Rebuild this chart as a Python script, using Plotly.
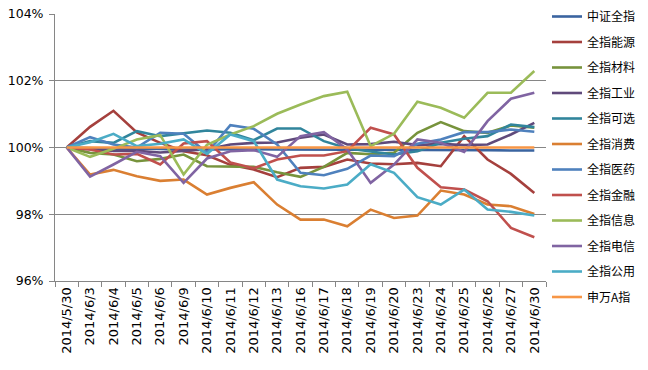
import plotly.graph_objects as go

dates = ["2014/5/30", "2014/6/3", "2014/6/4", "2014/6/5", "2014/6/6", "2014/6/9", "2014/6/10",
         "2014/6/11", "2014/6/12", "2014/6/13", "2014/6/16", "2014/6/17", "2014/6/18", "2014/6/19",
         "2014/6/20", "2014/6/23", "2014/6/24", "2014/6/25", "2014/6/26", "2014/6/27", "2014/6/30"]

zz_all = [100, 99.97, 99.96, 99.97, 99.95, 99.94, 99.94, 99.95, 99.95, 99.94, 99.94, 99.94, 99.93, 99.93,
          99.93, 99.93, 99.93, 99.92, 99.92, 99.91, 99.91]
energy = [100, 100.62, 101.1, 100.45, 100.14, 99.89, 99.77, 99.48, 99.34, 99.11, 99.39, 99.42, 99.64, 99.52,
          99.5, 99.54, 99.44, 100.34, 99.64, 99.21, 98.64]
materials = [100, 99.84, 99.79, 99.59, 99.66, 99.79, 99.44, 99.42, 99.42, 99.26, 99.12, 99.42, 99.84, 99.8,
             99.84, 100.44, 100.76, 100.49, 100.44, 100.66, 100.59]
industry = [100, 99.95, 99.9, 99.9, 99.85, 99.9, 99.95, 100.09, 100.14, 100.15, 100.29, 100.39, 100.09, 100.1,
            100.17, 100.07, 100.11, 100.07, 100.09, 100.39, 100.74]
discretionary = [100, 100.19, 100.14, 100.49, 100.34, 100.42, 100.51, 100.44, 100.22, 100.57, 100.57, 100.19,
                 99.98, 99.88, 99.79, 99.89, 100.14, 100.26, 100.34, 100.69, 100.61]
staples = [100, 99.19, 99.33, 99.14, 99.0, 99.04, 98.59, 98.79, 98.96, 98.29, 97.84, 97.84, 97.64, 98.14,
           97.89, 97.96, 98.71, 98.59, 98.29, 98.24, 98.01]
health = [100, 100.31, 100.09, 100.0, 100.44, 100.41, 99.84, 100.67, 100.56, 100.09, 99.24, 99.17, 99.36, 99.76,
          99.74, 100.11, 100.24, 100.46, 100.46, 100.54, 100.47]
financials = [100, 99.94, 99.79, 99.81, 99.49, 100.12, 100.19, 99.55, 99.38, 99.64, 99.76, 99.76, 99.89, 100.59,
              100.39, 99.39, 98.81, 98.74, 98.39, 97.59, 97.31]
info_tech = [100, 99.72, 99.96, 100.24, 100.37, 99.19, 100.08, 100.39, 100.64, 101.01, 101.29, 101.54, 101.67,
             100.04, 100.41, 101.37, 101.19, 100.89, 101.64, 101.64, 102.29]
telecom = [100, 99.13, 99.49, 99.87, 99.74, 98.94, 99.67, 99.89, 99.92, 99.72, 100.34, 100.46, 99.94, 98.94,
           99.49, 100.24, 100.14, 99.87, 100.79, 101.46, 101.64]
utilities = [100, 100.16, 100.41, 100.04, 100.11, 100.24, 99.81, 100.39, 100.19, 99.04, 98.84, 98.77, 98.89,
             99.5, 99.24, 98.51, 98.29, 98.74, 98.14, 98.07, 97.96]
sw_a = [100] * 21

names = ["中证全指", "全指能源", "全指材料", "全指工业", "全指可选", "全指消费",
         "全指医药", "全指金融", "全指信息", "全指电信", "全指公用", "申万A指"]
series = [zz_all, energy, materials, industry, discretionary, staples,
          health, financials, info_tech, telecom, utilities, sw_a]
colors = ["#3A64A0", "#A5403D", "#77933C", "#604A7B", "#31859C", "#DA7F32",
          "#4F81BD", "#C0504D", "#9BBB59", "#8064A2", "#4BACC6", "#F79646"]

y_ticks = [96, 98, 100, 102, 104]
y_tick_text = ["96%", "98%", "100%", "102%", "104%"]

fig = go.Figure()
for i, (n, s, c) in enumerate(zip(names, series, colors)):
    fig.add_trace(go.Scatter(x=dates, y=s, name=n, mode="lines",
                             line=dict(color=c, width=2.6), legendgroup=f"g{i}"))

fig.update_layout(
    width=648, height=370,
    margin=dict(l=55, r=102, t=14, b=89, autoexpand=False),
    plot_bgcolor="white", paper_bgcolor="white",
    font=dict(family="DejaVu Sans, Noto Sans CJK SC", size=12, color="#000000"),
    legend=dict(xref="container", yref="container", x=547 / 648, y=1 - 2 / 370,
                xanchor="left", yanchor="top",
                font=dict(family="Noto Sans CJK SC", size=12, color="#000"),
                tracegroupgap=6.5, itemwidth=30, bgcolor="rgba(0,0,0,0)",
                maxheight=370),
    showlegend=True,
)
fig.update_xaxes(type="category", tickangle=-90, showgrid=False,
                 showline=True, linecolor="#868686", linewidth=1,
                 ticks="outside", tickson="boundaries", ticklen=5, tickcolor="#868686",
                 tickfont=dict(family="DejaVu Sans", size=13), range=[-0.5, 20.5],
                 automargin=False)
fig.update_yaxes(range=[96, 104], tickvals=y_ticks, ticktext=y_tick_text,
                 showgrid=True, gridcolor="#868686", gridwidth=1,
                 showline=True, linecolor="#868686", linewidth=1,
                 ticks="outside", ticklen=5, tickcolor="#868686",
                 ticklabelstandoff=3, automargin=False,
                 tickfont=dict(family="DejaVu Sans", size=12.5), zeroline=False)

fig.write_html("out.html", config={"displayModeBar": False},
               post_script="document.body.style.margin='0';document.body.style.overflow='hidden';")
